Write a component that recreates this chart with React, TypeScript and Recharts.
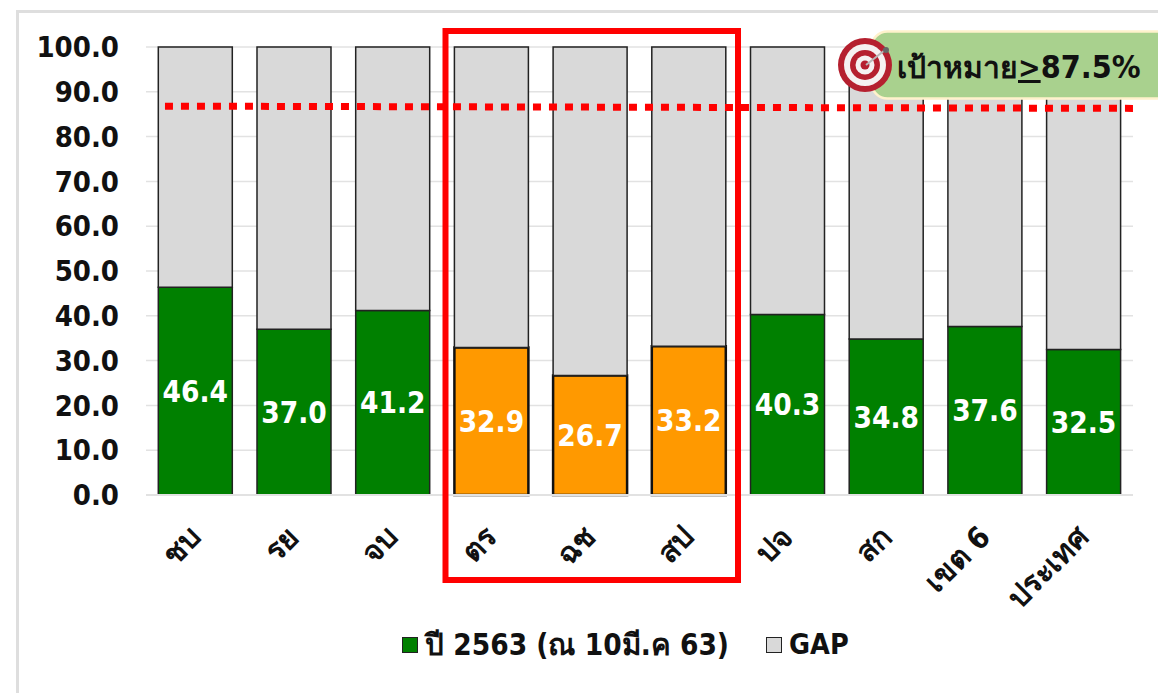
import React from "react";
import { BarChart, Bar, XAxis, YAxis, CartesianGrid, Cell, LabelList, Legend, ReferenceLine } from "recharts";

const categories = ["ชบ", "รย", "จบ", "ตร", "ฉช", "สป", "ปจ", "สก", "เขต 6", "ประเทศ"];
const values = [46.4, 37.0, 41.2, 32.9, 26.7, 33.2, 40.3, 34.8, 37.6, 32.5];
const highlighted = ["ตร", "ฉช", "สป"];
const yTicks = [0, 10, 20, 30, 40, 50, 60, 70, 80, 90, 100];
// Target line ends, measured along the row of categories (0 to 9) and on the value axis
const targetLineX = [0.173, 9];
const targetLineY = [86.8, 86.3];

const SERIES_NAME = "ปี 2563 (ณ 10มี.ค 63)";
const GAP_NAME = "GAP";
const FONT = "'DejaVu Sans Condensed', 'DejaVu Sans', 'Noto Sans', sans-serif";
const GREEN = "#008000";
const ORANGE = "#FF9900";
const GREY = "#D9D9D9";

const rows = categories.map((name, i) => ({
  name,
  value: values[i],
  gap: +(100 - values[i]).toFixed(1),
}));

function AngledTick({ x, y, payload }: any) {
  return (
    <text
      x={x + 1}
      y={y + 30}
      transform={`rotate(-45 ${x + 1} ${y + 30})`}
      textAnchor="end"
      dominantBaseline="middle"
      fontFamily={FONT}
      fontWeight={700}
      fontSize={30}
      fill="#111"
    >
      {payload.value}
    </text>
  );
}

function LegendRow({ payload }: any) {
  return (
    <div style={{ position: "relative", height: 40, fontFamily: FONT, fontWeight: 700, color: "#111" }}>
      {(payload || []).map((item: any) => {
        const main = item.value === SERIES_NAME;
        return (
          <div key={item.value} style={{ position: "absolute", left: main ? 402 : 766, top: 0, display: "flex", alignItems: "center", whiteSpace: "nowrap", lineHeight: "40px", fontSize: main ? 29.5 : 28.5 }}>
            <span style={{ width: 14, height: 14, background: item.color, border: "1.5px solid #222", marginRight: 7 }} />
            {item.value}
          </div>
        );
      })}
    </div>
  );
}

// Decorations laid over the plot: the highlight frame and the target badge
function Overlay() {
  return (
    <svg width={1158} height={693} style={{ position: "absolute", left: 0, top: 0, pointerEvents: "none" }}>
      <path d="M1158 11.5H17.5V693" fill="none" stroke="#DEDEDE" strokeWidth={3} />
      <rect x={445.5} y={31} width={292.5} height={549} fill="none" stroke="#FF0000" strokeWidth={6} />
      <rect x={871.5} y={31.5} width={320} height={67} rx={16} fill="#A9D18E" stroke="#FFF2CC" strokeWidth={2.5} />
      <text x={897} y={78} fontFamily={FONT} fontWeight={700} fontSize={30} fill="#111">
        เป้าหมาย<tspan textDecoration="underline">&gt;</tspan><tspan fontSize={32}>87.5%</tspan>
      </text>
      <circle cx={865} cy={65} r={27} fill="#B5202F" />
      <circle cx={865} cy={65} r={21} fill="#F5F1F1" />
      <circle cx={865} cy={65} r={15} fill="#B5202F" />
      <circle cx={865} cy={65} r={9.5} fill="#F5F1F1" />
      <circle cx={865} cy={65} r={4.5} fill="#B5202F" />
      <path d="M866 65L885 50" stroke="#B8B8B8" strokeWidth={2} />
      <circle cx={886} cy={50} r={3} fill="#666" />
    </svg>
  );
}

export default function App() {
  return (
    <div style={{ position: "absolute", left: 0, top: 0, width: 1158, height: 693, background: "#fff", overflow: "hidden" }}>
      <BarChart
        width={1158}
        height={693}
        data={rows}
        margin={{ top: 47, right: 25, bottom: 98, left: 0 }}
        barCategoryGap={12.3}
      >
        <CartesianGrid horizontal vertical={false} stroke="#E2E2E2" strokeWidth={1.5} />
        <XAxis
          dataKey="name"
          interval={0}
          height={60}
          axisLine={{ stroke: "#E2E2E2", strokeWidth: 2 }}
          tickLine={false}
          tick={<AngledTick />}
        />
        <XAxis xAxisId="target" type="number" domain={[0, 9]} allowDataOverflow hide />
        <YAxis
          width={146}
          domain={[0, 100]}
          ticks={yTicks}
          interval={0}
          axisLine={false}
          tickLine={false}
          tickSize={0}
          tickMargin={27}
          tickFormatter={(v: number) => v.toFixed(1)}
          tick={{ fontFamily: FONT, fontWeight: 700, fontSize: 29, fill: "#111" }}
        />
        <Bar dataKey="value" name={SERIES_NAME} stackId="a" fill={GREEN} stroke="#222" strokeWidth={1.5} isAnimationActive={false}>
          {rows.map((r) => {
            const hot = highlighted.includes(r.name);
            return <Cell key={r.name} fill={hot ? ORANGE : GREEN} stroke={hot ? "#111" : "#222"} strokeWidth={hot ? 2.5 : 1.5} />;
          })}
          <LabelList
            dataKey="value"
            position="center"
            formatter={(v: number) => v.toFixed(1)}
            style={{ fontFamily: FONT, fontWeight: 700, fontSize: 29.5, fill: "#fff", stroke: "none" }}
          />
        </Bar>
        <Bar dataKey="gap" name={GAP_NAME} stackId="a" fill={GREY} stroke="#222" strokeWidth={1.5} isAnimationActive={false} />
        <ReferenceLine
          xAxisId="target"
          segment={[
            { x: targetLineX[0], y: targetLineY[0] },
            { x: targetLineX[1], y: targetLineY[1] },
          ]}
          stroke="#FF0000"
          strokeWidth={7}
          strokeDasharray="8 8"
          ifOverflow="visible"
        />
        <Legend content={<LegendRow />} wrapperStyle={{ left: 0, width: 1158, top: 625, bottom: "auto" }} />
      </BarChart>
      <Overlay />
    </div>
  );
}
